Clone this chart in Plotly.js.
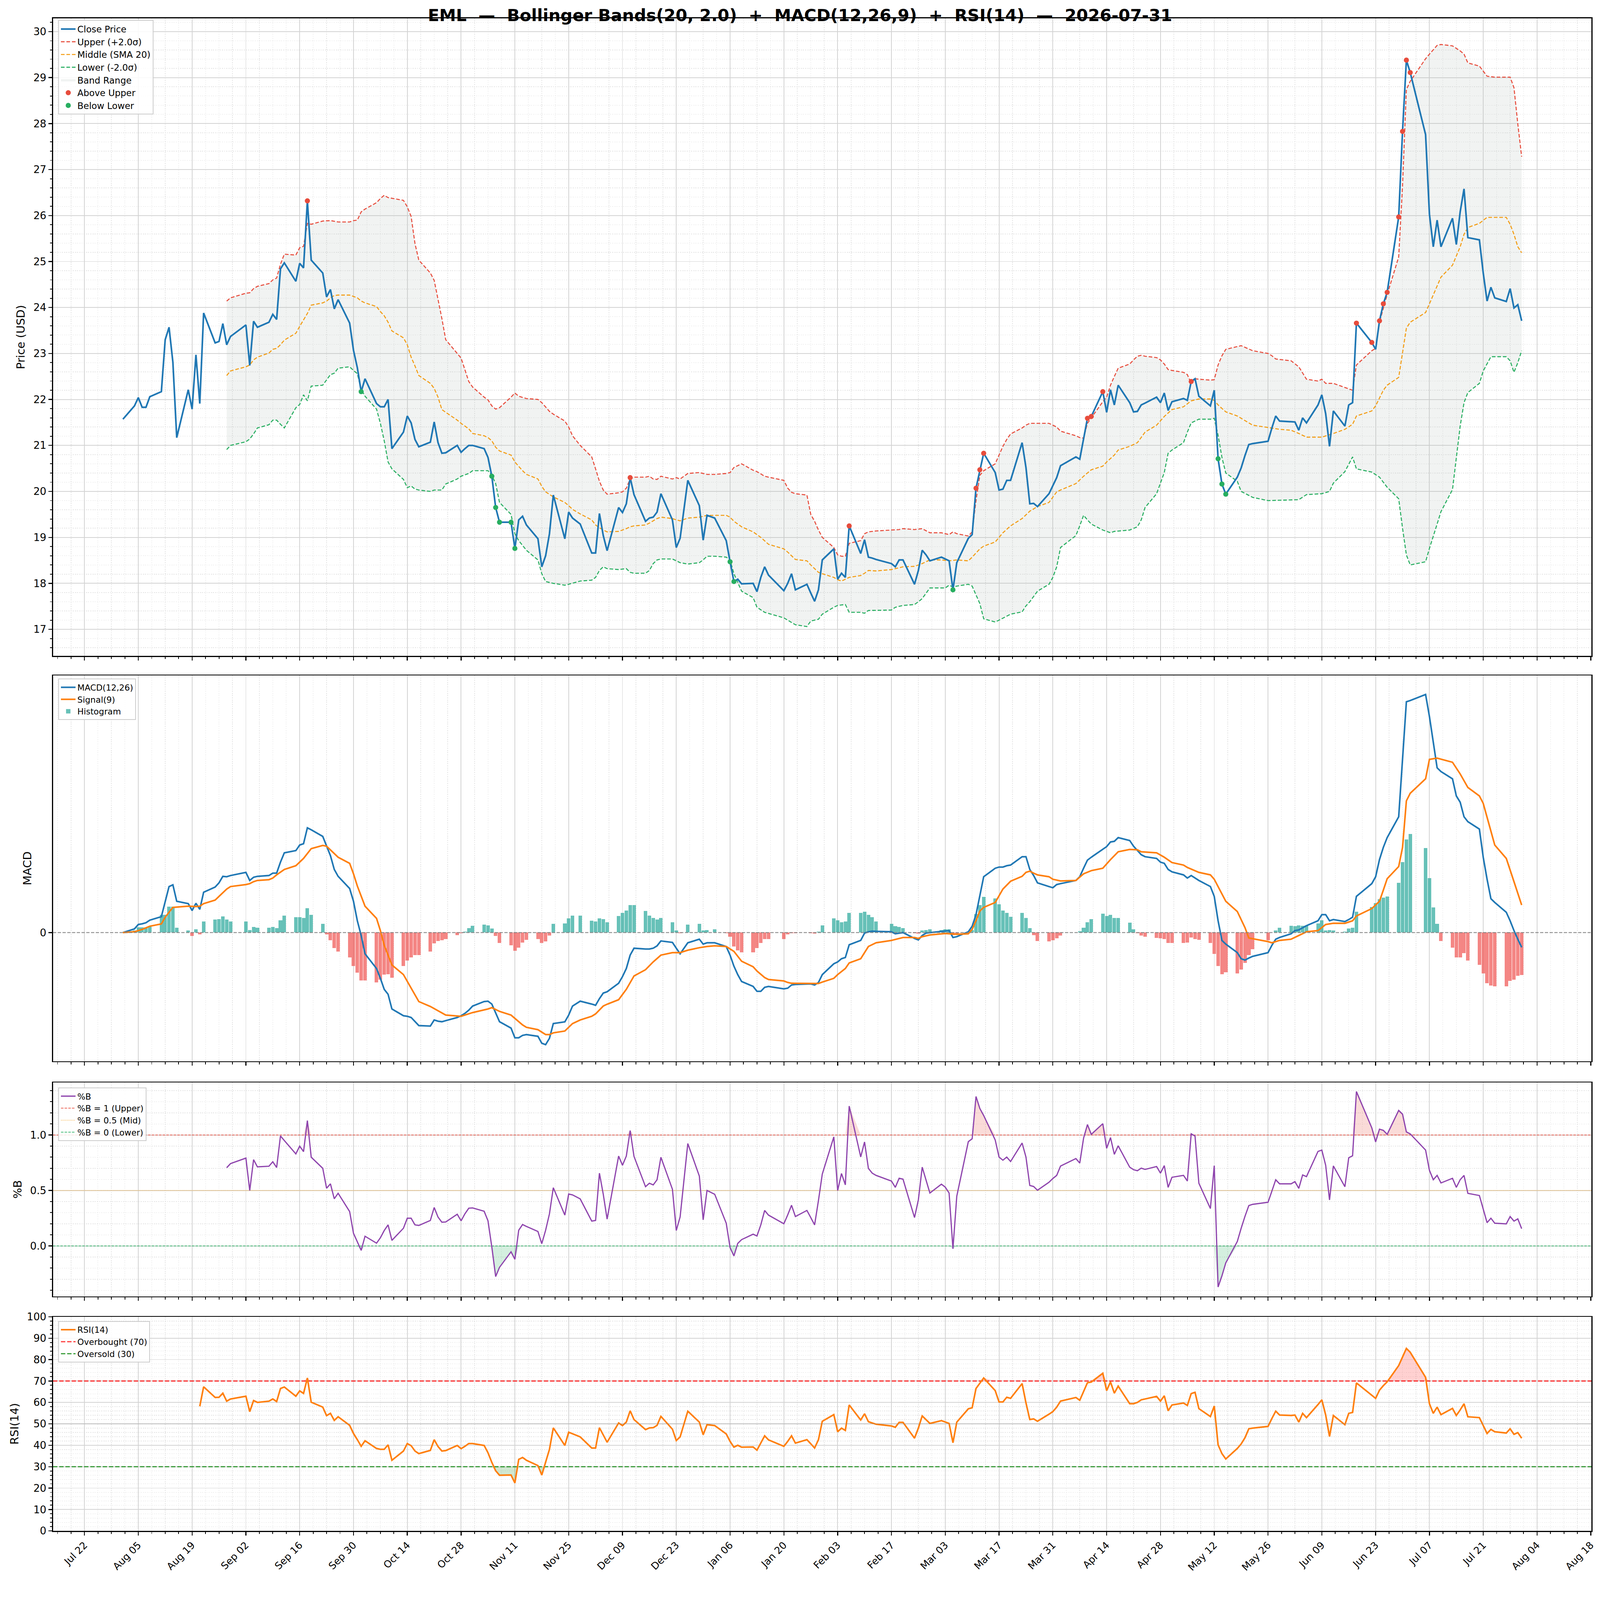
<!DOCTYPE html>
<html>
<head>
    <title>EML Bollinger / MACD / RSI</title>
    <script src="https://cdn.plot.ly/plotly-3.0.1.min.js"></script>
    <style>
        html, body { margin: 0; padding: 0; overflow: hidden; background: #ffffff; }
        #chart { width: 4378px; height: 4322px; transform-origin: 0 0; }
    </style>
</head>
<body>
    <div id="chart"></div>

    <script>
        // trading sessions (US market calendar, holidays left out)
        const sessions = [
            ['2025-08', [1,4,5,6,7,8,11,12,13,14,15,18,19,20,21,22,25,26,27,28,29]],
            ['2025-09', [2,3,4,5,8,9,10,11,12,15,16,17,18,19,22,23,24,25,26,29,30]],
            ['2025-10', [1,2,3,6,7,8,9,10,13,14,15,16,17,20,21,22,23,24,27,28,29,30,31]],
            ['2025-11', [3,4,5,6,7,10,11,12,13,14,17,18,19,20,21,24,25,26,28]],
            ['2025-12', [1,2,3,4,5,8,9,10,11,12,15,16,17,18,19,22,23,24,26,29,30,31]],
            ['2026-01', [2,5,6,7,8,9,12,13,14,15,16,20,21,22,23,26,27,28,29,30]],
            ['2026-02', [2,3,4,5,6,9,10,11,12,13,17,18,19,20,23,24,25,26,27]],
            ['2026-03', [2,3,4,5,6,9,10,11,12,13,16,17,18,19,20,23,24,25,26,27,30,31]],
            ['2026-04', [1,2,6,7,8,9,10,13,14,15,16,17,20,21,22,23,24,27,28,29,30]],
            ['2026-05', [1,4,5,6,7,8,11,12,13,14,15,18,19,20,21,22,26,27,28,29]],
            ['2026-06', [1,2,3,4,5,8,9,10,11,12,15,16,17,18,22,23,24,25,26,29,30]],
            ['2026-07', [1,2,6,7,8,9,10,13,14,15,16,17,20,21,22,23,24,27,28,29,30,31]]
        ];

        // one value per session
        const closePrice = [
            21.57,21.86,22.04,21.83,21.83,22.06,22.17,23.30,23.57,22.81,21.17,22.21,21.79,22.97,21.91,23.88,23.23,23.26,23.65,23.19,23.37,
            23.62,22.74,23.70,23.57,23.68,23.85,23.74,24.84,24.97,24.57,24.96,24.86,26.32,25.03,24.75,24.23,24.39,23.97,24.17,23.66,23.07,
            22.69,22.17,22.45,21.91,21.84,21.84,22.00,20.93,21.29,21.64,21.49,21.13,20.97,21.07,21.51,21.06,20.83,20.84,21.00,20.85,20.93,21.00,21.00,
            20.93,20.74,20.33,19.65,19.33,19.33,18.76,19.38,19.46,19.27,18.97,18.36,18.60,19.08,19.92,18.97,19.55,19.42,19.29,
            18.66,18.66,19.52,19.04,18.71,19.65,19.54,19.73,20.30,19.93,19.35,19.42,19.44,19.55,19.95,19.38,18.78,18.98,20.24,19.69,18.94,19.48,
            19.42,18.93,18.47,18.04,18.09,17.99,18.00,17.82,18.13,18.36,18.18,17.84,18.00,18.21,17.86,17.98,17.79,17.61,17.86,18.51,
            18.75,18.09,18.22,18.13,19.25,18.65,18.95,18.57,18.55,18.52,18.43,18.36,18.51,18.51,17.98,18.28,18.72,18.62,18.49,
            18.57,18.53,18.49,17.86,18.45,18.98,19.06,20.07,20.47,20.83,20.41,20.03,20.05,20.24,20.24,21.06,20.52,19.73,19.74,19.67,19.95,20.12,
            20.30,20.56,20.75,20.70,21.13,21.59,21.63,22.17,21.72,22.21,21.88,22.31,21.93,21.73,21.74,21.88,21.92,22.05,21.93,22.14,21.76,
            21.95,22.02,21.98,22.39,22.45,22.07,21.86,22.20,20.71,20.16,19.94,20.31,20.51,20.78,21.02,21.04,21.09,21.38,21.64,21.53,
            21.52,21.51,21.33,21.60,21.49,21.88,22.10,21.69,20.98,21.75,21.42,21.88,21.93,23.66,23.24,23.09,23.71,24.08,24.33,25.97,27.83,
            29.38,29.11,27.76,26.03,25.32,25.90,25.32,25.94,25.37,26.08,26.58,25.52,25.47,24.75,24.14,24.44,24.21,24.13,24.41,23.99,24.06,23.71
        ];

        const upperBand = [
            ['2025-08-28',24.14],['2025-08-29',24.21],['2025-09-02',24.31],['2025-09-03',24.32],['2025-09-04',24.41],['2025-09-05',24.46],
            ['2025-09-08',24.52],['2025-09-09',24.60],['2025-09-10',24.64],['2025-09-11',24.94],['2025-09-12',25.16],['2025-09-15',25.14],
            ['2025-09-16',25.30],['2025-09-17',25.33],['2025-09-18',25.83],['2025-09-19',25.81],['2025-09-22',25.88],['2025-09-24',25.89],
            ['2025-09-26',25.86],['2025-09-29',25.86],['2025-09-30',25.89],['2025-10-01',25.90],['2025-10-02',26.08],['2025-10-03',26.14],
            ['2025-10-06',26.28],['2025-10-07',26.37],['2025-10-08',26.44],['2025-10-09',26.39],['2025-10-13',26.33],['2025-10-14',26.19],
            ['2025-10-15',25.98],['2025-10-16',25.39],['2025-10-17',25.03],['2025-10-20',24.75],['2025-10-21',24.59],['2025-10-22',24.17],
            ['2025-10-23',23.76],['2025-10-24',23.30],['2025-10-27',23.00],['2025-10-28',22.90],['2025-10-30',22.39],['2025-10-31',22.27],
            ['2025-11-03',22.05],['2025-11-04',21.99],['2025-11-05',21.86],['2025-11-06',21.79],['2025-11-07',21.82],['2025-11-10',22.05],
            ['2025-11-11',22.14],['2025-11-12',22.07],['2025-11-14',22.02],['2025-11-17',22.00],['2025-11-18',21.93],['2025-11-20',21.74],
            ['2025-11-21',21.68],['2025-11-24',21.53],['2025-11-25',21.40],['2025-11-26',21.21],['2025-11-28',21.00],['2025-12-01',20.75],
            ['2025-12-02',20.49],['2025-12-03',20.22],['2025-12-04',20.03],['2025-12-05',19.94],['2025-12-08',19.97],['2025-12-09',19.99],
            ['2025-12-10',20.07],['2025-12-11',20.27],['2025-12-12',20.31],['2025-12-15',20.31],['2025-12-16',20.33],['2025-12-17',20.27],
            ['2025-12-18',20.26],['2025-12-19',20.33],['2025-12-22',20.27],['2025-12-23',20.30],['2025-12-24',20.27],['2025-12-26',20.39],
            ['2025-12-29',20.41],['2025-12-31',20.37],['2026-01-02',20.37],['2026-01-05',20.39],['2026-01-06',20.41],['2026-01-07',20.52],
            ['2026-01-09',20.60],['2026-01-12',20.46],['2026-01-13',20.43],['2026-01-15',20.33],['2026-01-16',20.31],['2026-01-20',20.24],
            ['2026-01-21',20.07],['2026-01-22',19.98],['2026-01-23',19.95],['2026-01-26',19.92],['2026-01-27',19.50],['2026-01-28',19.35],
            ['2026-01-29',19.16],['2026-01-30',19.00],['2026-02-02',18.78],['2026-02-03',18.62],['2026-02-04',18.59],['2026-02-05',18.59],
            ['2026-02-06',18.87],['2026-02-09',18.93],['2026-02-10',19.08],['2026-02-11',19.12],['2026-02-13',19.14],['2026-02-17',19.16],
            ['2026-02-19',19.17],['2026-02-20',19.19],['2026-02-23',19.17],['2026-02-25',19.19],['2026-02-27',19.10],['2026-03-02',19.10],
            ['2026-03-04',19.06],['2026-03-05',19.12],['2026-03-06',19.08],['2026-03-09',19.03],['2026-03-10',19.12],['2026-03-11',19.80],
            ['2026-03-12',20.35],['2026-03-13',20.45],['2026-03-16',20.60],['2026-03-17',20.79],['2026-03-18',20.98],['2026-03-19',21.13],
            ['2026-03-20',21.25],['2026-03-23',21.38],['2026-03-24',21.44],['2026-03-25',21.48],['2026-03-27',21.48],['2026-03-30',21.48],
            ['2026-04-01',21.40],['2026-04-02',21.31],['2026-04-06',21.21],['2026-04-07',21.17],['2026-04-08',21.16],['2026-04-09',21.48],
            ['2026-04-10',21.60],['2026-04-13',21.95],['2026-04-14',22.05],['2026-04-15',22.31],['2026-04-16',22.50],['2026-04-17',22.68],
            ['2026-04-20',22.77],['2026-04-21',22.86],['2026-04-22',22.94],['2026-04-23',22.96],['2026-04-24',22.94],['2026-04-27',22.91],
            ['2026-04-28',22.86],['2026-04-29',22.77],['2026-04-30',22.65],['2026-05-01',22.63],['2026-05-04',22.59],['2026-05-05',22.54],
            ['2026-05-06',22.35],['2026-05-07',22.45],['2026-05-08',22.44],['2026-05-11',22.42],['2026-05-12',22.43],['2026-05-13',22.75],
            ['2026-05-14',22.95],['2026-05-15',23.09],['2026-05-19',23.17],['2026-05-22',23.06],['2026-05-26',23.00],['2026-05-27',22.95],
            ['2026-05-28',22.88],['2026-06-01',22.84],['2026-06-03',22.71],['2026-06-04',22.57],['2026-06-05',22.44],['2026-06-08',22.40],
            ['2026-06-09',22.44],['2026-06-10',22.35],['2026-06-12',22.35],['2026-06-15',22.26],['2026-06-17',22.20],['2026-06-18',22.75],
            ['2026-06-22',23.06],['2026-06-23',23.11],['2026-06-24',23.68],['2026-06-25',23.98],['2026-06-26',24.28],['2026-06-29',25.10],
            ['2026-06-30',26.65],['2026-07-01',28.74],['2026-07-02',28.92],['2026-07-06',29.41],['2026-07-07',29.51],['2026-07-09',29.70],
            ['2026-07-10',29.72],['2026-07-13',29.69],['2026-07-15',29.58],['2026-07-16',29.51],['2026-07-17',29.32],['2026-07-20',29.25],
            ['2026-07-21',29.14],['2026-07-22',29.03],['2026-07-24',29.01],['2026-07-28',29.01],['2026-07-29',28.78],['2026-07-30',27.99],
            ['2026-07-31',27.28]
        ];

        const middleBand = [
            ['2025-08-28',22.52],['2025-08-29',22.62],['2025-09-02',22.71],['2025-09-03',22.75],['2025-09-04',22.86],['2025-09-05',22.92],
            ['2025-09-08',23.01],['2025-09-09',23.09],['2025-09-10',23.11],['2025-09-11',23.19],['2025-09-12',23.29],['2025-09-15',23.44],
            ['2025-09-16',23.59],['2025-09-17',23.73],['2025-09-18',23.87],['2025-09-19',24.05],['2025-09-22',24.10],['2025-09-23',24.14],
            ['2025-09-24',24.21],['2025-09-25',24.26],['2025-09-26',24.27],['2025-09-29',24.27],['2025-09-30',24.24],['2025-10-01',24.21],
            ['2025-10-02',24.14],['2025-10-03',24.10],['2025-10-06',24.02],['2025-10-07',23.91],['2025-10-08',23.82],['2025-10-09',23.68],
            ['2025-10-10',23.49],['2025-10-13',23.34],['2025-10-14',23.19],['2025-10-15',22.92],['2025-10-16',22.73],['2025-10-17',22.52],
            ['2025-10-20',22.35],['2025-10-21',22.24],['2025-10-22',22.05],['2025-10-23',21.78],['2025-10-24',21.72],['2025-10-27',21.55],
            ['2025-10-28',21.48],['2025-10-30',21.36],['2025-10-31',21.26],['2025-11-03',21.21],['2025-11-04',21.17],['2025-11-05',21.10],
            ['2025-11-06',20.96],['2025-11-07',20.88],['2025-11-10',20.79],['2025-11-11',20.64],['2025-11-13',20.45],['2025-11-14',20.37],
            ['2025-11-17',20.27],['2025-11-18',20.11],['2025-11-19',19.99],['2025-11-21',19.88],['2025-11-24',19.76],['2025-11-25',19.69],
            ['2025-11-26',19.61],['2025-11-28',19.51],['2025-12-01',19.38],['2025-12-02',19.27],['2025-12-03',19.21],['2025-12-04',19.16],
            ['2025-12-05',19.12],['2025-12-08',19.13],['2025-12-10',19.19],['2025-12-11',19.23],['2025-12-12',19.25],['2025-12-15',19.27],
            ['2025-12-16',19.31],['2025-12-17',19.36],['2025-12-18',19.41],['2025-12-19',19.44],['2025-12-22',19.41],['2025-12-23',19.38],
            ['2025-12-24',19.36],['2025-12-26',19.42],['2025-12-29',19.44],['2025-12-31',19.48],['2026-01-02',19.48],['2026-01-05',19.48],
            ['2026-01-06',19.44],['2026-01-07',19.35],['2026-01-09',19.23],['2026-01-12',19.12],['2026-01-14',19.00],['2026-01-16',18.85],
            ['2026-01-20',18.75],['2026-01-21',18.68],['2026-01-23',18.52],['2026-01-26',18.49],['2026-01-27',18.40],['2026-01-29',18.24],
            ['2026-01-30',18.21],['2026-02-02',18.13],['2026-02-03',18.08],['2026-02-04',18.05],['2026-02-05',18.09],['2026-02-06',18.13],
            ['2026-02-09',18.17],['2026-02-10',18.22],['2026-02-11',18.28],['2026-02-13',18.27],['2026-02-17',18.30],['2026-02-19',18.34],
            ['2026-02-20',18.36],['2026-02-23',18.37],['2026-02-25',18.43],['2026-02-27',18.51],['2026-03-02',18.51],['2026-03-04',18.49],
            ['2026-03-06',18.51],['2026-03-09',18.49],['2026-03-10',18.57],['2026-03-12',18.75],['2026-03-13',18.81],['2026-03-16',18.90],
            ['2026-03-18',19.10],['2026-03-20',19.25],['2026-03-23',19.41],['2026-03-25',19.57],['2026-03-27',19.67],['2026-03-30',19.76],
            ['2026-04-01',19.99],['2026-04-02',20.03],['2026-04-06',20.17],['2026-04-08',20.33],['2026-04-10',20.47],['2026-04-13',20.55],
            ['2026-04-14',20.64],['2026-04-16',20.79],['2026-04-17',20.90],['2026-04-20',20.98],['2026-04-22',21.06],['2026-04-24',21.29],
            ['2026-04-27',21.44],['2026-04-29',21.63],['2026-05-01',21.78],['2026-05-04',21.84],['2026-05-06',21.97],['2026-05-08',22.01],
            ['2026-05-11',22.01],['2026-05-12',21.98],['2026-05-13',21.88],['2026-05-15',21.73],['2026-05-18',21.64],['2026-05-21',21.49],
            ['2026-05-22',21.44],['2026-05-26',21.39],['2026-05-29',21.35],['2026-06-01',21.33],['2026-06-03',21.26],['2026-06-05',21.18],
            ['2026-06-09',21.18],['2026-06-12',21.26],['2026-06-15',21.35],['2026-06-17',21.46],['2026-06-18',21.64],['2026-06-22',21.75],
            ['2026-06-23',21.86],['2026-06-25',22.20],['2026-06-26',22.31],['2026-06-29',22.48],['2026-06-30',23.02],['2026-07-01',23.55],
            ['2026-07-02',23.68],['2026-07-06',23.89],['2026-07-07',24.08],['2026-07-10',24.66],['2026-07-13',24.92],['2026-07-15',25.32],
            ['2026-07-16',25.59],['2026-07-17',25.74],['2026-07-20',25.83],['2026-07-22',25.96],['2026-07-24',25.96],['2026-07-27',25.96],
            ['2026-07-28',25.81],['2026-07-29',25.59],['2026-07-30',25.32],['2026-07-31',25.19]
        ];

        const lowerBand = [
            ['2025-08-28',20.91],['2025-08-29',21.00],['2025-09-02',21.08],['2025-09-03',21.14],['2025-09-04',21.25],['2025-09-05',21.38],
            ['2025-09-08',21.45],['2025-09-09',21.55],['2025-09-10',21.55],['2025-09-11',21.46],['2025-09-12',21.38],['2025-09-15',21.82],
            ['2025-09-16',21.89],['2025-09-17',22.10],['2025-09-18',21.97],['2025-09-19',22.29],['2025-09-22',22.31],['2025-09-23',22.43],
            ['2025-09-24',22.54],['2025-09-25',22.57],['2025-09-26',22.68],['2025-09-29',22.71],['2025-09-30',22.63],['2025-10-01',22.56],
            ['2025-10-02',22.22],['2025-10-03',22.07],['2025-10-06',21.79],['2025-10-07',21.48],['2025-10-08',21.10],['2025-10-09',20.64],
            ['2025-10-10',20.49],['2025-10-13',20.26],['2025-10-14',20.08],['2025-10-15',20.12],['2025-10-16',20.05],['2025-10-17',20.03],
            ['2025-10-20',20.00],['2025-10-21',20.03],['2025-10-22',20.03],['2025-10-23',20.03],['2025-10-24',20.16],['2025-10-27',20.27],
            ['2025-10-28',20.33],['2025-10-30',20.39],['2025-10-31',20.45],['2025-11-03',20.45],['2025-11-04',20.45],['2025-11-05',20.35],
            ['2025-11-06',20.17],['2025-11-07',19.76],['2025-11-10',19.50],['2025-11-11',19.08],['2025-11-12',18.93],['2025-11-14',18.72],
            ['2025-11-17',18.51],['2025-11-18',18.21],['2025-11-19',18.04],['2025-11-21',18.00],['2025-11-24',17.96],['2025-11-25',17.98],
            ['2025-11-28',18.05],['2025-12-01',18.07],['2025-12-02',18.13],['2025-12-03',18.28],['2025-12-04',18.36],['2025-12-05',18.32],
            ['2025-12-08',18.30],['2025-12-10',18.32],['2025-12-11',18.24],['2025-12-12',18.22],['2025-12-15',18.22],['2025-12-16',18.28],
            ['2025-12-17',18.43],['2025-12-18',18.51],['2025-12-19',18.53],['2025-12-22',18.53],['2025-12-23',18.49],['2025-12-24',18.45],
            ['2025-12-26',18.42],['2025-12-29',18.45],['2025-12-30',18.51],['2025-12-31',18.59],['2026-01-02',18.59],['2026-01-05',18.57],
            ['2026-01-06',18.51],['2026-01-07',18.21],['2026-01-09',17.83],['2026-01-12',17.69],['2026-01-13',17.48],['2026-01-15',17.37],
            ['2026-01-20',17.25],['2026-01-21',17.20],['2026-01-23',17.10],['2026-01-26',17.06],['2026-01-27',17.18],['2026-01-29',17.22],
            ['2026-01-30',17.33],['2026-02-02',17.48],['2026-02-03',17.52],['2026-02-05',17.54],['2026-02-06',17.37],['2026-02-09',17.37],
            ['2026-02-10',17.35],['2026-02-11',17.41],['2026-02-17',17.42],['2026-02-18',17.48],['2026-02-20',17.52],['2026-02-23',17.54],
            ['2026-02-24',17.60],['2026-02-25',17.67],['2026-02-26',17.79],['2026-02-27',17.90],['2026-03-02',17.90],['2026-03-03',17.90],
            ['2026-03-04',17.96],['2026-03-05',17.92],['2026-03-06',17.94],['2026-03-09',17.98],['2026-03-10',17.94],['2026-03-11',17.75],
            ['2026-03-12',17.56],['2026-03-13',17.23],['2026-03-16',17.16],['2026-03-17',17.20],['2026-03-19',17.29],['2026-03-20',17.33],
            ['2026-03-23',17.38],['2026-03-24',17.51],['2026-03-25',17.60],['2026-03-27',17.83],['2026-03-30',17.98],['2026-03-31',18.13],
            ['2026-04-01',18.36],['2026-04-02',18.78],['2026-04-06',19.04],['2026-04-07',19.25],['2026-04-08',19.48],['2026-04-09',19.38],
            ['2026-04-10',19.29],['2026-04-13',19.16],['2026-04-15',19.10],['2026-04-16',19.13],['2026-04-20',19.16],['2026-04-22',19.23],
            ['2026-04-23',19.38],['2026-04-24',19.65],['2026-04-27',19.95],['2026-04-29',20.41],['2026-04-30',20.83],['2026-05-01',20.90],
            ['2026-05-04',21.06],['2026-05-05',21.29],['2026-05-06',21.49],['2026-05-08',21.57],['2026-05-11',21.57],['2026-05-12',21.59],
            ['2026-05-13',21.22],['2026-05-14',20.74],['2026-05-15',20.40],['2026-05-18',20.22],['2026-05-19',20.00],['2026-05-22',19.87],
            ['2026-05-26',19.80],['2026-06-03',19.82],['2026-06-05',19.93],['2026-06-09',19.95],['2026-06-11',20.00],['2026-06-12',20.18],
            ['2026-06-15',20.43],['2026-06-17',20.75],['2026-06-18',20.49],['2026-06-22',20.42],['2026-06-24',20.31],['2026-06-26',20.09],
            ['2026-06-29',19.84],['2026-06-30',19.20],['2026-07-01',18.62],['2026-07-02',18.40],['2026-07-06',18.47],['2026-07-07',18.76],
            ['2026-07-09',19.29],['2026-07-10',19.56],['2026-07-13',20.04],['2026-07-14',20.71],['2026-07-15',21.42],['2026-07-16',21.93],
            ['2026-07-17',22.15],['2026-07-20',22.35],['2026-07-21',22.62],['2026-07-23',22.93],['2026-07-27',22.93],['2026-07-28',22.84],
            ['2026-07-29',22.59],['2026-07-30',22.80],['2026-07-31',23.06]
        ];

        const aboveUpperDays = ['2025-09-18','2025-12-11','2026-02-06','2026-03-11','2026-03-12','2026-03-13','2026-04-09','2026-04-10',
            '2026-04-13','2026-05-06','2026-06-18','2026-06-22','2026-06-24','2026-06-25','2026-06-26','2026-06-29','2026-06-30',
            '2026-07-01','2026-07-02'];
        const belowLowerDays = ['2025-10-02','2025-11-05','2025-11-06','2025-11-07','2025-11-10','2025-11-11','2026-01-06','2026-01-07',
            '2026-03-05','2026-05-13','2026-05-14','2026-05-15'];

        // one value per session
        const macdLine = [
            0,0.028,0.061,0.066,0.074,0.094,0.12,0.236,0.347,0.36,0.236,0.218,0.166,0.221,0.175,0.304,0.343,0.375,0.424,0.421,0.43,
            0.454,0.393,0.417,0.424,0.43,0.448,0.448,0.531,0.601,0.618,0.66,0.67,0.79,0.775,0.725,0.65,0.58,0.476,0.424,0.332,0.236,
            0.089,-0.022,-0.16,-0.271,-0.345,-0.428,-0.465,-0.576,-0.627,-0.631,-0.64,-0.672,-0.701,-0.705,-0.659,-0.668,-0.672,-0.664,-0.64,-0.627,-0.609,-0.585,-0.554,
            -0.52,-0.517,-0.539,-0.609,-0.672,-0.72,-0.793,-0.793,-0.775,-0.769,-0.782,-0.834,-0.845,-0.797,-0.686,-0.673,-0.622,-0.554,-0.517,
            -0.539,-0.548,-0.498,-0.456,-0.446,-0.382,-0.332,-0.271,-0.17,-0.118,-0.124,-0.124,-0.118,-0.1,-0.063,-0.074,-0.118,-0.16,-0.077,-0.05,-0.087,-0.077,
            -0.077,-0.105,-0.17,-0.253,-0.317,-0.369,-0.406,-0.443,-0.443,-0.413,-0.406,-0.424,-0.419,-0.395,-0.391,-0.387,-0.387,-0.395,-0.376,-0.317,
            -0.235,-0.221,-0.197,-0.188,-0.092,-0.059,-0.004,0.006,0.011,0.009,0.006,-0.009,-0.004,0,-0.044,-0.055,-0.022,-0.004,0,
            0.009,0.011,0.015,-0.037,-0.031,0.006,0.048,0.135,0.273,0.421,0.485,0.494,0.494,0.504,0.509,0.572,0.572,0.476,0.43,0.375,0.347,0.338,
            0.362,0.369,0.393,0.421,0.485,0.546,0.568,0.627,0.648,0.683,0.688,0.716,0.694,0.651,0.62,0.587,0.572,0.559,0.531,0.522,0.476,
            0.458,0.435,0.411,0.43,0.411,0.393,0.347,0.273,0.089,-0.059,-0.087,-0.151,-0.197,-0.207,-0.192,-0.179,-0.151,-0.096,-0.05,-0.037,
            -0.009,0.015,0.02,0.037,0.052,0.089,0.135,0.135,0.089,0.098,0.083,0.098,0.116,0.273,0.369,0.421,0.55,0.642,0.716,0.873,1.288,
            1.74,1.749,1.795,1.629,1.435,1.242,1.214,1.159,1.03,0.983,0.873,0.836,0.78,0.568,0.402,0.255,0.227,0.153,0.089,0.015,-0.05,-0.111
        ];

        const signalLine = [
            ['2025-08-01',0],['2025-08-04',0.006],['2025-08-06',0.024],['2025-08-08',0.048],['2025-08-11',0.065],['2025-08-12',0.116],
            ['2025-08-14',0.19],['2025-08-18',0.199],['2025-08-20',0.196],['2025-08-21',0.199],['2025-08-22',0.218],['2025-08-25',0.245],
            ['2025-08-28',0.328],['2025-08-29',0.347],['2025-09-02',0.362],['2025-09-03',0.369],['2025-09-04',0.384],['2025-09-05',0.393],
            ['2025-09-08',0.399],['2025-09-09',0.411],['2025-09-10',0.435],['2025-09-12',0.476],['2025-09-15',0.504],['2025-09-17',0.559],
            ['2025-09-19',0.633],['2025-09-22',0.657],['2025-09-23',0.651],['2025-09-24',0.624],['2025-09-26',0.568],['2025-09-29',0.522],
            ['2025-09-30',0.443],['2025-10-01',0.351],['2025-10-03',0.199],['2025-10-06',0.107],['2025-10-07',0.015],['2025-10-08',-0.096],
            ['2025-10-10',-0.244],['2025-10-13',-0.317],['2025-10-14',-0.369],['2025-10-17',-0.52],['2025-10-20',-0.557],['2025-10-24',-0.622],
            ['2025-10-28',-0.631],['2025-10-31',-0.603],['2025-11-04',-0.576],['2025-11-05',-0.566],['2025-11-07',-0.594],['2025-11-10',-0.622],
            ['2025-11-13',-0.696],['2025-11-14',-0.714],['2025-11-17',-0.732],['2025-11-19',-0.769],['2025-11-20',-0.769],['2025-11-21',-0.756],
            ['2025-11-24',-0.742],['2025-11-26',-0.686],['2025-11-28',-0.659],['2025-12-01',-0.631],['2025-12-02',-0.613],['2025-12-04',-0.554],
            ['2025-12-05',-0.54],['2025-12-08',-0.506],['2025-12-10',-0.428],['2025-12-12',-0.327],['2025-12-15',-0.28],['2025-12-17',-0.221],
            ['2025-12-19',-0.17],['2025-12-22',-0.151],['2025-12-24',-0.151],['2025-12-26',-0.133],['2025-12-29',-0.114],['2025-12-31',-0.105],
            ['2026-01-02',-0.1],['2026-01-05',-0.105],['2026-01-07',-0.142],['2026-01-09',-0.216],['2026-01-12',-0.258],['2026-01-13',-0.29],
            ['2026-01-15',-0.339],['2026-01-16',-0.354],['2026-01-20',-0.365],['2026-01-21',-0.376],['2026-01-22',-0.382],['2026-01-26',-0.384],
            ['2026-01-29',-0.384],['2026-01-30',-0.373],['2026-02-02',-0.345],['2026-02-03',-0.317],['2026-02-05',-0.271],['2026-02-06',-0.229],
            ['2026-02-09',-0.197],['2026-02-10',-0.151],['2026-02-11',-0.105],['2026-02-13',-0.077],['2026-02-17',-0.059],['2026-02-20',-0.037],
            ['2026-02-23',-0.037],['2026-02-24',-0.044],['2026-02-25',-0.031],['2026-02-27',-0.018],['2026-03-03',-0.007],['2026-03-06',-0.013],
            ['2026-03-09',-0.009],['2026-03-10',0.024],['2026-03-11',0.089],['2026-03-12',0.162],['2026-03-13',0.19],['2026-03-16',0.227],
            ['2026-03-18',0.328],['2026-03-20',0.387],['2026-03-23',0.424],['2026-03-24',0.454],['2026-03-25',0.463],['2026-03-26',0.448],
            ['2026-03-27',0.435],['2026-03-30',0.421],['2026-03-31',0.402],['2026-04-02',0.389],['2026-04-06',0.393],['2026-04-08',0.443],
            ['2026-04-10',0.467],['2026-04-13',0.485],['2026-04-15',0.55],['2026-04-17',0.609],['2026-04-20',0.627],['2026-04-22',0.624],
            ['2026-04-23',0.609],['2026-04-27',0.601],['2026-04-29',0.568],['2026-05-01',0.528],['2026-05-04',0.509],['2026-05-05',0.491],
            ['2026-05-07',0.467],['2026-05-08',0.454],['2026-05-11',0.435],['2026-05-12',0.402],['2026-05-15',0.236],['2026-05-18',0.159],
            ['2026-05-20',0.037],['2026-05-21',-0.041],['2026-05-26',-0.068],['2026-05-27',-0.077],['2026-05-29',-0.059],['2026-06-01',-0.05],
            ['2026-06-03',-0.022],['2026-06-05',0.006],['2026-06-08',0.015],['2026-06-10',0.061],['2026-06-12',0.07],['2026-06-15',0.07],
            ['2026-06-17',0.089],['2026-06-18',0.125],['2026-06-22',0.181],['2026-06-24',0.236],['2026-06-25',0.32],['2026-06-26',0.406],
            ['2026-06-29',0.498],['2026-06-30',0.642],['2026-07-01',0.993],['2026-07-02',1.05],['2026-07-06',1.159],['2026-07-07',1.306],
            ['2026-07-09',1.315],['2026-07-13',1.284],['2026-07-15',1.196],['2026-07-17',1.094],['2026-07-20',1.03],['2026-07-21',0.974],
            ['2026-07-24',0.66],['2026-07-27',0.559],['2026-07-29',0.384],['2026-07-31',0.208]
        ];

        // one value per session
        const macdHist = [
            0,0.015,0.04,0.04,0.04,0.048,0.135,0.135,0.196,0.196,0.037,0.015,-0.026,0.024,-0.013,0.085,0.098,0.101,0.122,0.098,0.085,
            0.085,0.018,0.042,0.037,0.037,0.042,0.033,0.092,0.129,0.116,0.116,0.111,0.185,0.135,0.066,-0.013,-0.059,-0.118,-0.142,-0.188,-0.253,
            -0.303,-0.36,-0.36,-0.376,-0.354,-0.317,-0.314,-0.339,-0.253,-0.21,-0.188,-0.17,-0.17,-0.142,-0.081,-0.065,-0.059,-0.05,-0.018,-0.005,0.006,0.033,0.052,
            0.061,0.055,0.03,-0.026,-0.077,-0.096,-0.137,-0.114,-0.074,-0.055,-0.05,-0.077,-0.068,-0.022,0.066,0.07,0.107,0.129,0.129,
            0.089,0.085,0.107,0.101,0.079,0.125,0.148,0.166,0.208,0.208,0.162,0.129,0.111,0.098,0.111,0.079,0.015,-0.004,0.061,0.066,0.015,0.018,
            0.024,-0.004,-0.031,-0.105,-0.133,-0.148,-0.148,-0.118,-0.077,-0.05,-0.05,-0.05,-0.013,-0.004,-0.004,0,-0.004,-0.007,0.006,0.055,
            0.107,0.092,0.079,0.085,0.148,0.148,0.157,0.135,0.116,0.083,0.066,0.048,0.042,0.035,-0.004,-0.007,0.015,0.02,0.024,
            0.018,0.024,0.024,-0.02,-0.015,0.006,0.018,0.14,0.208,0.268,0.258,0.214,0.166,0.148,0.12,0.148,0.111,0.033,-0.018,-0.063,-0.068,-0.059,
            -0.044,-0.022,0,0.011,0.037,0.079,0.101,0.144,0.125,0.135,0.111,0.111,0.074,0.024,-0.004,-0.022,-0.031,-0.041,-0.044,-0.05,-0.077,
            -0.077,-0.077,-0.074,-0.037,-0.05,-0.055,-0.077,-0.16,-0.253,-0.314,-0.3,-0.308,-0.28,-0.229,-0.17,-0.124,-0.059,0,0.015,0.037,
            0.052,0.048,0.055,0.052,0.055,0.07,0.092,0.015,0.018,0.015,0.006,0.03,0.037,0.157,0.194,0.221,0.251,0.264,0.273,0.375,0.531,
            0.701,0.744,0.637,0.411,0.19,0.066,-0.063,-0.114,-0.188,-0.188,-0.155,-0.21,-0.244,-0.308,-0.382,-0.4,-0.406,-0.406,-0.363,-0.354,-0.327,-0.321
        ];

        // one value per session (null before the 20-day window is full)
        const percentB = [
            null,null,null,null,null,null,null,null,null,null,null,null,null,null,null,null,null,null,null,0.705,0.742,
            0.792,0.5,0.778,0.713,0.719,0.759,0.707,0.992,0.95,0.83,0.9,0.85,1.13,0.8,0.7,0.52,0.56,0.425,0.475,0.31,0.114,
            0.04,-0.04,0.0875,0.025,0.074,0.139,0.19,0.05,0.16,0.25,0.25,0.19,0.185,0.23,0.347,0.26,0.214,0.216,0.286,0.227,0.29,0.34,0.343,
            0.3125,0.227,-0.01,-0.276,-0.193,-0.053,-0.12,0.142,0.193,0.176,0.13,0.02,0.142,0.29,0.525,0.278,0.468,0.46,0.424,
            0.224,0.23,0.656,0.466,0.242,0.81,0.727,0.81,1.04,0.807,0.534,0.565,0.55,0.597,0.8,0.511,0.139,0.261,0.923,0.63,0.235,0.5,
            0.466,0.205,-0.015,-0.09,0.023,0.057,0.106,0.09,0.19,0.32,0.278,0.2,0.28,0.367,0.265,0.32,0.256,0.19,0.41,0.648,
            0.983,0.5,0.653,0.551,1.261,0.803,0.9375,0.699,0.656,0.636,0.585,0.528,0.61,0.602,0.256,0.415,0.71,0.597,0.477,
            0.557,0.53,0.477,-0.026,0.449,0.94,0.966,1.347,1.239,1.176,0.955,0.801,0.773,0.801,0.761,0.928,0.801,0.545,0.536,0.502,0.574,0.608,
            0.636,0.72,0.7875,0.747,0.972,1.094,1.006,1.102,0.88,0.977,0.826,0.903,0.71,0.6875,0.678,0.701,0.69,0.716,0.656,0.724,0.528,
            0.619,0.636,0.585,1.011,0.99,0.565,0.3375,0.724,-0.37,-0.27,-0.153,0.04,0.159,0.267,0.364,0.375,0.394,0.494,0.597,0.56,
            0.56,0.58,0.519,0.64,0.625,0.852,0.864,0.727,0.415,0.7216,0.534,0.795,0.8125,1.392,1.065,0.9375,1.053,1.042,1.006,1.222,1.1875,
            1.028,1.01,0.864,0.682,0.597,0.636,0.568,0.61,0.528,0.597,0.636,0.474,0.4545,0.335,0.21,0.25,0.205,0.199,0.265,0.224,0.244,0.156
        ];

        // one value per session (null before the 14-day window is full)
        const rsi14 = [
            null,null,null,null,null,null,null,null,null,null,null,null,null,null,58.2,67.3,62.3,62.4,64.3,60.6,61.6,
            62.9,55.7,60.9,60.0,60.6,61.6,60.4,66.5,67.2,62.9,65.4,64.2,71.4,60.1,57.8,53.8,54.9,51.6,53.3,49.3,45.5,
            42.6,39.5,42.1,38.5,38.1,38.1,40.2,33.0,37.3,40.8,39.8,37.3,36.1,37.6,42.6,39.4,37.3,37.5,39.9,38.4,39.5,40.8,40.8,
            39.9,36.5,32.0,28.1,26.0,26.1,22.4,33.4,34.3,33.0,30.5,26.1,32.2,38.1,48.1,39.9,46.1,45.3,43.9,
            38.7,38.7,48.2,44.7,41.4,50.4,49.2,50.8,56.1,52.0,47.3,48.1,48.2,49.3,53.5,47.5,42.2,43.9,55.9,50.8,44.9,49.6,
            49.2,45.3,41.8,39.1,40.0,39.1,39.2,37.7,41.0,44.4,42.5,39.5,41.8,44.4,41.0,42.6,40.7,38.7,42.6,51.2,
            54.3,46.3,48.0,46.9,58.8,51.8,54.7,51.0,50.4,49.8,49.0,48.4,50.7,50.7,43.3,48.0,53.7,52.0,50.2,
            51.5,50.8,50.2,41.2,50.8,57.0,57.5,66.5,68.8,71.4,65.5,60.2,60.2,62.4,61.9,68.8,59.8,52.0,52.3,51.2,54.5,55.7,
            57.8,60.6,62.3,61.0,65.1,69.2,69.5,73.6,65.5,69.6,64.3,67.6,59.4,59.4,60.0,61.2,61.6,62.8,60.6,63.1,56.1,
            58.8,59.7,58.6,64.1,64.7,57.1,53.4,58.3,40.2,36.1,33.6,38.5,40.6,43.5,47.7,48.0,48.8,52.5,55.9,54.1,
            53.9,54.1,50.8,54.9,52.9,59.0,61.2,54.1,44.1,53.9,49.6,54.9,55.3,69.1,63.5,61.9,65.7,67.8,69.6,77.2,81.2,
            85.2,83.4,71.7,59.4,54.9,57.8,54.3,57.2,53.9,56.5,59.4,53.3,52.9,49.2,45.5,47.4,46.3,45.7,47.7,45.1,45.9,43.3
        ];

        const pctBLevels = { upper: 1, mid: 0.5, lower: 0 };
        const rsiLevels = { overbought: 70, mid: 50, oversold: 30 };

        const titleText = 'EML \u00a0— \u00a0Bollinger Bands(20, 2.0) \u00a0+ \u00a0MACD(12,26,9) \u00a0+ \u00a0RSI(14) \u00a0— \u00a02026-07-31';

        // ---------------------------------------------------------------
        const FIG_W = 4378, FIG_H = 4322;
        const DAY = 86400000;
        const X_RANGE = ['2025-07-13 19:12', '2026-08-18 04:48'];
        const FONT = 'DejaVu Sans, Verdana, sans-serif';

        // fit the full-size figure into whatever viewport we get
        const chartDiv = document.getElementById('chart');
        const fit = Math.min(window.innerWidth / FIG_W, window.innerHeight / FIG_H);
        if (fit > 0 && fit < 1) chartDiv.style.transform = 'scale(' + fit + ')';

        const tradingDays = [];
        sessions.forEach(([month, days]) => {
            days.forEach(d => tradingDays.push(month + '-' + String(d).padStart(2, '0')));
        });

        const xs = pairs => pairs.map(p => p[0]);
        const ys = pairs => pairs.map(p => p[1]);
        const closeOn = d => closePrice[tradingDays.indexOf(d)];

        function defined(values) {
            const x = [], y = [];
            values.forEach((v, i) => { if (v !== null) { x.push(tradingDays[i]); y.push(v); } });
            return { x, y };
        }

        const pb = defined(percentB);
        const rs = defined(rsi14);

        const data = [
            // ---- price panel
            { x: xs(lowerBand), y: ys(lowerBand), xaxis: 'x', yaxis: 'y', mode: 'lines',
              line: { width: 0 }, showlegend: false, hoverinfo: 'skip' },
            { x: xs(upperBand), y: ys(upperBand), xaxis: 'x', yaxis: 'y', mode: 'lines', fill: 'tonexty',
              fillcolor: 'rgba(165,180,172,0.16)', line: { width: 0 }, name: 'Band Range',
              legend: 'legend', legendrank: 5 },
            { x: xs(upperBand), y: ys(upperBand), xaxis: 'x', yaxis: 'y', mode: 'lines', name: 'Upper (+2.0σ)',
              line: { color: '#e74c3c', width: 2.8, dash: '10px,5px' }, legend: 'legend', legendrank: 2 },
            { x: xs(middleBand), y: ys(middleBand), xaxis: 'x', yaxis: 'y', mode: 'lines', name: 'Middle (SMA 20)',
              line: { color: '#f39c12', width: 2.8, dash: '10px,5px' }, legend: 'legend', legendrank: 3 },
            { x: xs(lowerBand), y: ys(lowerBand), xaxis: 'x', yaxis: 'y', mode: 'lines', name: 'Lower (-2.0σ)',
              line: { color: '#27ae60', width: 2.8, dash: '10px,5px' }, legend: 'legend', legendrank: 4 },
            { x: tradingDays, y: closePrice, xaxis: 'x', yaxis: 'y', mode: 'lines', name: 'Close Price',
              line: { color: '#1f77b4', width: 4.5 }, legend: 'legend', legendrank: 1 },
            { x: aboveUpperDays, y: aboveUpperDays.map(closeOn), xaxis: 'x', yaxis: 'y', mode: 'markers',
              name: 'Above Upper', marker: { color: '#e74c3c', size: 14 }, legend: 'legend', legendrank: 6 },
            { x: belowLowerDays, y: belowLowerDays.map(closeOn), xaxis: 'x', yaxis: 'y', mode: 'markers',
              name: 'Below Lower', marker: { color: '#27ae60', size: 14 }, legend: 'legend', legendrank: 7 },

            // ---- MACD panel
            { type: 'bar', x: tradingDays, y: macdHist, xaxis: 'x2', yaxis: 'y2', name: 'Histogram',
              width: DAY * 0.92,
              marker: { color: macdHist.map(v => v >= 0 ? 'rgba(38,166,154,0.7)' : 'rgba(239,83,80,0.7)'), line: { width: 0 } },
              legend: 'legend2', legendrank: 3 },
            { x: tradingDays, y: macdLine, xaxis: 'x2', yaxis: 'y2', mode: 'lines', name: 'MACD(12,26)',
              line: { color: '#1f77b4', width: 4.3 }, legend: 'legend2', legendrank: 1 },
            { x: xs(signalLine), y: ys(signalLine), xaxis: 'x2', yaxis: 'y2', mode: 'lines', name: 'Signal(9)',
              line: { color: '#ff7f0e', width: 4.3 }, legend: 'legend2', legendrank: 2 },

            // ---- %B panel
            { x: X_RANGE, y: [pctBLevels.upper, pctBLevels.upper], xaxis: 'x3', yaxis: 'y3', mode: 'lines',
              name: '%B = 1 (Upper)', line: { color: 'rgba(231,76,60,0.75)', width: 2.4, dash: '7px,3px' },
              legend: 'legend3', legendrank: 2 },
            { x: pb.x, y: pb.y.map(v => Math.max(v, pctBLevels.upper)), xaxis: 'x3', yaxis: 'y3', mode: 'lines',
              fill: 'tonexty', fillcolor: 'rgba(231,76,60,0.2)', line: { width: 0 }, showlegend: false, hoverinfo: 'skip' },
            { x: X_RANGE, y: [pctBLevels.lower, pctBLevels.lower], xaxis: 'x3', yaxis: 'y3', mode: 'lines',
              name: '%B = 0 (Lower)', line: { color: 'rgba(39,174,96,0.75)', width: 2.4, dash: '7px,3px' },
              legend: 'legend3', legendrank: 4 },
            { x: pb.x, y: pb.y.map(v => Math.min(v, pctBLevels.lower)), xaxis: 'x3', yaxis: 'y3', mode: 'lines',
              fill: 'tonexty', fillcolor: 'rgba(39,174,96,0.2)', line: { width: 0 }, showlegend: false, hoverinfo: 'skip' },
            { x: X_RANGE, y: [pctBLevels.mid, pctBLevels.mid], xaxis: 'x3', yaxis: 'y3', mode: 'lines',
              name: '%B = 0.5 (Mid)', line: { color: 'rgba(243,156,18,0.6)', width: 2.2, dash: '2px,2px' },
              legend: 'legend3', legendrank: 3 },
            { x: pb.x, y: pb.y, xaxis: 'x3', yaxis: 'y3', mode: 'lines', name: '%B',
              line: { color: '#8e44ad', width: 3.3 }, legend: 'legend3', legendrank: 1 },

            // ---- RSI panel
            { x: X_RANGE, y: [rsiLevels.overbought, rsiLevels.overbought], xaxis: 'x4', yaxis: 'y4', mode: 'lines',
              name: 'Overbought (70)', line: { color: 'rgba(255,0,0,0.75)', width: 3.3, dash: '12px,5px' },
              legend: 'legend4', legendrank: 2 },
            { x: rs.x, y: rs.y.map(v => Math.max(v, rsiLevels.overbought)), xaxis: 'x4', yaxis: 'y4', mode: 'lines',
              fill: 'tonexty', fillcolor: 'rgba(255,0,0,0.18)', line: { width: 0 }, showlegend: false, hoverinfo: 'skip' },
            { x: X_RANGE, y: [rsiLevels.oversold, rsiLevels.oversold], xaxis: 'x4', yaxis: 'y4', mode: 'lines',
              name: 'Oversold (30)', line: { color: 'rgba(0,128,0,0.75)', width: 3.3, dash: '12px,5px' },
              legend: 'legend4', legendrank: 3 },
            { x: rs.x, y: rs.y.map(v => Math.min(v, rsiLevels.oversold)), xaxis: 'x4', yaxis: 'y4', mode: 'lines',
              fill: 'tonexty', fillcolor: 'rgba(0,128,0,0.18)', line: { width: 0 }, showlegend: false, hoverinfo: 'skip' },
            { x: rs.x, y: rs.y, xaxis: 'x4', yaxis: 'y4', mode: 'lines', name: 'RSI(14)',
              line: { color: '#ff7f0e', width: 4.3 }, legend: 'legend4', legendrank: 1 }
        ];

        function xAxis(anchor, withLabels) {
            return {
                type: 'date', range: X_RANGE, autorange: false, anchor: anchor, domain: [0, 1],
                tick0: '2025-07-22', dtick: 14 * DAY, tickformat: '%b %d', tickangle: -45,
                showticklabels: withLabels, tickfont: { size: 27, color: '#000' },
                ticks: 'outside', ticklen: 10, tickwidth: 2.5, tickcolor: '#000',
                showline: true, mirror: true, linecolor: '#000', linewidth: 2.5,
                showgrid: true, gridcolor: '#d3d3d3', gridwidth: 2, zeroline: false,
                minor: { tick0: '2025-07-22', dtick: 3.5 * DAY, ticks: 'outside', ticklen: 6, tickwidth: 2,
                         tickcolor: '#000', showgrid: true, gridcolor: '#e4e4e4', gridwidth: 1.5, griddash: 'dot' }
            };
        }

        function yAxis(anchor, domain, range, title, extra) {
            return Object.assign({
                anchor: anchor, domain: domain, range: range, autorange: false,
                title: { text: title, font: { size: 31, color: '#000' }, standoff: 14 },
                tickfont: { size: 28, color: '#000' },
                ticks: 'outside', ticklen: 10, tickwidth: 2.5, tickcolor: '#000',
                showline: true, mirror: true, linecolor: '#000', linewidth: 2.5,
                showgrid: true, gridcolor: '#d3d3d3', gridwidth: 2, zeroline: false
            }, extra);
        }

        function legendAt(y, size) {
            return {
                x: 0.0035, y: y, xref: 'paper', yref: 'paper', xanchor: 'left', yanchor: 'top',
                bgcolor: 'rgba(255,255,255,0.85)', bordercolor: '#cccccc', borderwidth: 2,
                font: { size: size, color: '#000', family: FONT }, traceorder: 'normal', itemwidth: 40
            };
        }

        const minorDot = (dtick) => ({ dtick: dtick, ticks: 'outside', ticklen: 6, tickwidth: 2, tickcolor: '#000',
                                      showgrid: true, gridcolor: '#e4e4e4', gridwidth: 1.5, griddash: 'dot' });

        const layout = {
            width: FIG_W, height: FIG_H,
            margin: { l: 145, r: 23, t: 50, b: 133 },
            paper_bgcolor: '#ffffff', plot_bgcolor: '#ffffff',
            font: { family: FONT, color: '#000' },
            showlegend: true,
            title: { text: titleText, x: 0.5, xref: 'container', y: 1 - 42 / FIG_H, yref: 'container',
                     xanchor: 'center', yanchor: 'middle', font: { size: 46, color: '#000', family: FONT, weight: 'bold' } },
            xaxis: xAxis('y', false),
            xaxis2: xAxis('y2', false),
            xaxis3: xAxis('y3', false),
            xaxis4: xAxis('y4', true),
            yaxis: yAxis('x', [0.5784, 1.0], [16.42, 30.29], 'Price (USD)', { dtick: 1, minor: minorDot(0.2) }),
            yaxis2: yAxis('x2', [0.3105, 0.5656], [-0.970, 1.939], 'MACD', { tickvals: [0], ticktext: ['0'], showgrid: false }),
            yaxis3: yAxis('x3', [0.1551, 0.2965], [-0.454, 1.474], '%B', { tickvals: [0, 0.5, 1], tickformat: '.1f', minor: minorDot(0.1) }),
            yaxis4: yAxis('x4', [0, 0.1416], [0, 100], 'RSI(14)', { dtick: 10, minor: minorDot(2) }),
            legend: legendAt(0.9988, 24.5),
            legend2: legendAt(0.5634, 23),
            legend3: legendAt(0.2931, 23),
            legend4: legendAt(0.1387, 23),
            bargap: 0,
            shapes: [
                { type: 'line', xref: 'x2 domain', x0: 0, x1: 1, yref: 'y2', y0: 0, y1: 0,
                  line: { color: 'rgba(128,128,128,0.9)', width: 2.5, dash: '9px,4px' } },
                { type: 'line', xref: 'x4 domain', x0: 0, x1: 1, yref: 'y4', y0: rsiLevels.mid, y1: rsiLevels.mid,
                  line: { color: 'rgba(128,128,128,0.6)', width: 2.2, dash: '2px,2px' } }
            ]
        };

        const config = { displayModeBar: false, responsive: false, staticPlot: true };

        Plotly.newPlot('chart', data, layout, config);
    </script>
</body>
</html>
